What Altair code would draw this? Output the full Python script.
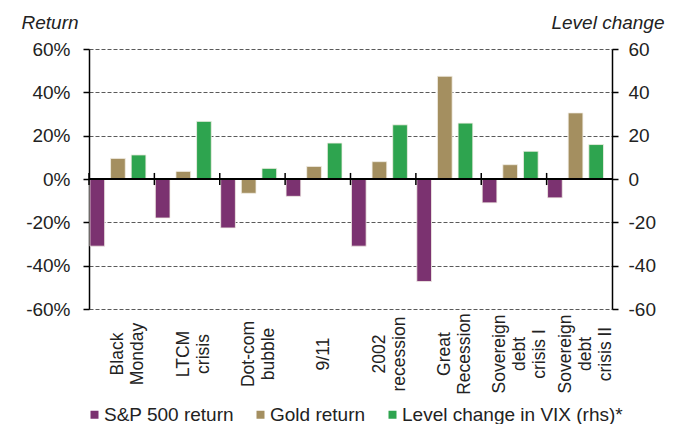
import altair as alt
import pandas as pd

# ---- data ----
events = ["Black\nMonday", "LTCM\ncrisis", "Dot-com\nbubble", "9/11", "2002\nrecession",
          "Great\nRecession", "Sovereign\ndebt\ncrisis I", "Sovereign\ndebt\ncrisis II"]
sp500_return = [-31, -18, -22.6, -8, -31, -47.3, -11, -8.7]
gold_return = [9.5, 3.5, -6.6, 5.8, 8, 47.4, 6.6, 30.5]
vix_change = [11.1, 26.6, 4.9, 16.6, 25, 25.8, 12.8, 15.9]
series_names = ["S&P 500 return", "Gold return", "Level change in VIX (rhs)*"]
series_colors = ["#7B3270", "#A48F60", "#2EA44F"]
y_ticks = [-60, -40, -20, 0, 20, 40, 60]

rows = []
for name, vals in zip(series_names, [sp500_return, gold_return, vix_change]):
    for ev, v in zip(events, vals):
        rows.append({"event": ev, "series": name, "value": v})
df = pd.DataFrame(rows)
df_events = pd.DataFrame({"event": events})

FONT = "Liberation Sans"
TXT = "#222222"
LINE_H = 20

x_scale = alt.Scale(paddingInner=0, paddingOuter=0)

bars = alt.Chart(df).mark_bar(stroke="#f3efe6", strokeWidth=0.8).encode(
    x=alt.X("event:N", sort=events, scale=x_scale, axis=None),
    xOffset=alt.XOffset(
        "series:N", sort=series_names,
        scale=alt.Scale(paddingInner=0.288, paddingOuter=0.228, align=0.1),
    ),
    y=alt.Y(
        "value:Q",
        scale=alt.Scale(domain=[-60, 60], nice=False),
        axis=alt.Axis(
            orient="left", values=y_ticks, labelExpr="datum.value + '%'",
            labelFontSize=19, labelFont=FONT, labelColor=TXT, labelPadding=13,
            domain=True, domainColor="black", domainWidth=1.5,
            ticks=True, tickColor="black", tickSize=6, tickWidth=1.5,
            grid=True, gridDash=[4, 2], gridColor="#5a5a5a", gridWidth=1,
            title="Return", titleAngle=0, titleFontStyle="italic",
            titleFontWeight="normal", titleFontSize=19, titleFont=FONT,
            titleColor=TXT, titleX=-68, titleY=-21, titleAlign="left",
            titleBaseline="alphabetic",
        ),
    ),
    color=alt.Color(
        "series:N", sort=series_names,
        scale=alt.Scale(domain=series_names, range=series_colors),
        legend=alt.Legend(
            orient="none", legendX=-4, legendY=356, direction="horizontal",
            title=None, symbolType="square", symbolSize=64, symbolStrokeWidth=0,
            labelFontSize=19, labelFont=FONT, labelColor=TXT, labelOffset=0,
            columnPadding=17, labelLimit=400,
        ),
    ),
)

zero_line = alt.Chart(df_events).mark_rule(color="black", strokeWidth=1.5).encode(
    y=alt.datum(0)
)

group_ticks = alt.Chart(df_events).mark_rule(color="black", strokeWidth=1.5).encode(
    x=alt.X("event:N", sort=events, bandPosition=0, axis=None),
    y=alt.datum(-2.8),
    y2=alt.datum(2.8),
)


def label_layer(n_lines):
    # rotated multi-line category labels, block centred on its group
    return alt.Chart(df_events).transform_calculate(
        n="length(split(datum.event, '\\n'))"
    ).transform_filter(
        alt.datum.n == n_lines
    ).mark_text(
        angle=270, align="center", baseline="middle", lineBreak="\n",
        lineHeight=LINE_H, fontSize=17.5, font=FONT, color=TXT,
        dy=-(n_lines - 1) * LINE_H / 2,
    ).encode(
        x=alt.X("event:N", sort=events, bandPosition=0.6, axis=None),
        y=alt.value(305),
        text="event:N",
    )


main = alt.layer(bars, zero_line, group_ticks,
                 label_layer(1), label_layer(2), label_layer(3))

right_axis = alt.Chart(df[df["series"] == series_names[2]]).mark_rule(
    strokeOpacity=0
).encode(
    y=alt.Y(
        "value:Q",
        scale=alt.Scale(domain=[-60, 60], nice=False),
        axis=alt.Axis(
            orient="right", values=y_ticks, labelExpr="datum.value + ''",
            labelFontSize=19, labelFont=FONT, labelColor=TXT, labelPadding=10,
            domain=True, domainColor="black", domainWidth=1.5,
            ticks=True, tickColor="black", tickSize=6, tickWidth=1.5, grid=False,
            title="Level change", titleAngle=0, titleFontStyle="italic",
            titleFontWeight="normal", titleFontSize=19, titleFont=FONT,
            titleColor=TXT, titleX=52, titleY=-21, titleAlign="right",
            titleBaseline="alphabetic",
        ),
    ),
)

chart = alt.layer(main, right_axis).resolve_scale(y="independent").properties(
    width=523, height=260,
    autosize=alt.AutoSizeParams(type="none"),
    padding={"left": 81, "top": 41, "right": 53, "bottom": 115},
    background="white",
).configure_view(stroke=None)

chart.save("out.html", embed_options={"renderer": "svg", "actions": False})
